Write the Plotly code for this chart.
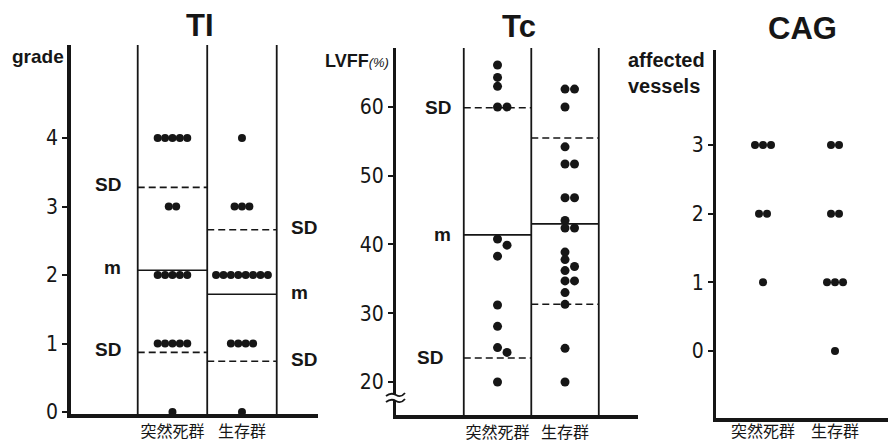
import plotly.graph_objects as go

W, H = 888, 442

# ---------------- data ----------------
groups = ["突然死群", "生存群"]

# TI (grade)
ti_sudden = [4, 4, 4, 4, 4, 3, 3, 2, 2, 2, 2, 2, 1, 1, 1, 1, 1, 0]
ti_survivor = [4, 3, 3, 3, 2, 2, 2, 2, 2, 2, 2, 2, 1, 1, 1, 1, 0]
ti_mean = [2.07, 1.72]
ti_sd_hi = [3.28, 2.66]
ti_sd_lo = [0.87, 0.74]
ti_ticks = [0, 1, 2, 3, 4]

# Tc (LVFF %)
tc_sudden = [66.1, 64.3, 63.0, 60.0, 60.0, 40.8, 39.9, 38.3, 31.2, 28.1, 25.0, 24.3, 20.0]
tc_survivor = [62.6, 62.6, 60.0, 54.2, 51.7, 51.7, 46.8, 46.8, 43.5, 42.4, 42.4,
               38.9, 37.8, 36.8, 36.2, 34.7, 34.7, 33.0, 31.3, 24.9, 20.0]
tc_mean = [41.4, 43.0]
tc_sd_hi = [59.9, 55.5]
tc_sd_lo = [23.5, 31.3]
tc_ticks = [20, 30, 40, 50, 60]

# CAG (affected vessels)
cag_sudden = [3, 3, 3, 2, 2, 1]
cag_survivor = [3, 3, 2, 2, 1, 1, 1, 0]
cag_ticks = [0, 1, 2, 3]

INK = "#161616"
FONT = "Liberation Sans, Arial, sans-serif"
NUMFONT = "DejaVu Sans Condensed, Liberation Sans Narrow, Arial Narrow, Liberation Sans, Arial, sans-serif"
CJK = "Noto Sans CJK JP, Noto Sans CJK SC, sans-serif"


def fx(p):
    return p / W


def fy(p):
    return 1 - p / H


# panel geometry (pixels) -> axis domains / ranges
panels = [
    dict(name="TI", xa="x", ya="y", xdom=(71, 318), ydom=(45, 414),
         xr=(-1.46, 2.094), yr=(-0.029, 5.358), ticks=ti_ticks,
         xppu=69.5, yppu=68.5, lw=3.5, lab_shift=0),
    dict(name="Tc", xa="x2", ya="y2", xdom=(396, 638), ydom=(48, 415),
         xr=(-1.504, 2.081), yr=(15.2, 68.58), ticks=tc_ticks,
         xppu=67.5, yppu=6.875, lw=3.0, lab_shift=0),
    dict(name="CAG", xa="x3", ya="y3", xdom=(716, 888), ydom=(50, 418),
         xr=(-0.653, 1.736), yr=(-0.976, 4.383), ticks=cag_ticks,
         xppu=72.0, yppu=68.67, lw=3.0, lab_shift=-4),
]


def row_offsets(values, step_px, xppu):
    counts = {}
    for v in values:
        counts[v] = counts.get(v, 0) + 1
    seen = {}
    out = []
    for v in values:
        i = seen.get(v, 0)
        seen[v] = i + 1
        out.append((i - (counts[v] - 1) / 2) * step_px / xppu)
    return out


def swarm_offsets(values, step_px, min_px, xppu, yppu):
    placed = []
    out = []
    for v in values:
        y = v * yppu
        x = 0.0
        for k in [0, 1, -1, 2, -2, 3, -3]:
            x = k * step_px
            if all((x - a) ** 2 + (y - b) ** 2 >= min_px ** 2 for a, b in placed):
                break
        placed.append((x, y))
        out.append(x / xppu)
    return out


fig = go.Figure()
shapes = []
annotations = []


def add_points(vals, gi, offs, p, size):
    fig.add_trace(go.Scatter(
        x=[gi + o for o in offs], y=vals, mode="markers",
        marker=dict(size=size, color=INK, line=dict(width=0)),
        xaxis=p["xa"], yaxis=p["ya"], cliponaxis=False,
        showlegend=False, hoverinfo="y"))


# TI
p = panels[0]
add_points(ti_sudden, 0, row_offsets(ti_sudden, 7.4, p["xppu"]), p, 8)
add_points(ti_survivor, 1, row_offsets(ti_survivor, 7.4, p["xppu"]), p, 8)
# Tc
p = panels[1]
add_points(tc_sudden, 0, swarm_offsets(tc_sudden, 9.5, 7.5, p["xppu"], p["yppu"]), p, 9)
add_points(tc_survivor, 1, swarm_offsets(tc_survivor, 9.5, 7.5, p["xppu"], p["yppu"]), p, 9)
# CAG
p = panels[2]
add_points(cag_sudden, 0, row_offsets(cag_sudden, 8.0, p["xppu"]), p, 8)
add_points(cag_survivor, 1, row_offsets(cag_survivor, 8.0, p["xppu"]), p, 8)

# column boundaries, mean and SD lines
for p, means, his, los in [(panels[0], ti_mean, ti_sd_hi, ti_sd_lo),
                           (panels[1], tc_mean, tc_sd_hi, tc_sd_lo)]:
    for cx in [-0.5, 0.5, 1.5]:
        shapes.append(dict(type="line", xref=p["xa"], yref=p["ya"] + " domain",
                           x0=cx, x1=cx, y0=0, y1=1,
                           line=dict(color=INK, width=1.8)))
    for gi in range(2):
        shapes.append(dict(type="line", xref=p["xa"], yref=p["ya"],
                           x0=gi - 0.5, x1=gi + 0.5, y0=means[gi], y1=means[gi],
                           line=dict(color=INK, width=1.6)))
        for v in (his[gi], los[gi]):
            shapes.append(dict(type="line", xref=p["xa"], yref=p["ya"],
                               x0=gi - 0.5, x1=gi + 0.5, y0=v, y1=v,
                               line=dict(color=INK, width=1.6, dash="7px,4px")))

# m / SD labels
lab_font = dict(family=FONT, size=19, color=INK, weight="bold")
p = panels[0]
for txt, v in [("SD", ti_sd_hi[0]), ("m", ti_mean[0]), ("SD", ti_sd_lo[0])]:
    annotations.append(dict(text=txt, xref=p["xa"], yref=p["ya"], x=-0.5, y=v,
                            xanchor="right", yanchor="middle", xshift=-15, yshift=3,
                            showarrow=False, font=lab_font))
for txt, v in [("SD", ti_sd_hi[1]), ("m", ti_mean[1]), ("SD", ti_sd_lo[1])]:
    annotations.append(dict(text=txt, xref=p["xa"], yref=p["ya"], x=1.5, y=v,
                            xanchor="left", yanchor="middle", xshift=12, yshift=2,
                            showarrow=False, font=lab_font))
p = panels[1]
for txt, v, sh in [("SD", tc_sd_hi[0], -11), ("m", tc_mean[0], -11), ("SD", tc_sd_lo[0], -19)]:
    annotations.append(dict(text=txt, xref=p["xa"], yref=p["ya"], x=-0.5, y=v,
                            xanchor="right", yanchor="middle", xshift=sh, yshift=0,
                            showarrow=False, font=lab_font))

# titles and axis labels
for txt, x, y in [("TI", 200, 25), ("Tc", 519, 26), ("CAG", 802, 28)]:
    annotations.append(dict(text=f"<b>{txt}</b>", xref="paper", yref="paper",
                            x=fx(x), y=fy(y), xanchor="center", yanchor="middle",
                            showarrow=False, font=dict(family=FONT, size=31, color=INK)))
annotations.append(dict(text="<b>grade</b>", xref="paper", yref="paper", x=fx(66), y=fy(57),
                        xanchor="right", yanchor="middle", showarrow=False,
                        font=dict(family=FONT, size=19, color=INK)))
annotations.append(dict(text="<b>LVFF</b><span style='font-size:13px'><i>(%)</i></span>",
                        xref="paper", yref="paper", x=fx(391), y=fy(61),
                        xanchor="right", yanchor="middle", showarrow=False,
                        font=dict(family=FONT, size=18, color=INK)))
annotations.append(dict(text="<b>affected</b><br><b>vessels</b>", xref="paper", yref="paper",
                        x=fx(626), y=fy(73), xanchor="left", yanchor="middle",
                        align="left", showarrow=False,
                        font=dict(family=FONT, size=20, color=INK)))

# axis break on Tc axis
shapes.append(dict(type="rect", xref="paper", yref="paper",
                   x0=fx(390), x1=fx(403), y0=fy(401), y1=fy(395),
                   fillcolor="white", line=dict(width=0), layer="above"))
for yb in (395, 401):
    path = (f"M {fx(386)} {fy(yb + 1)} Q {fx(391)} {fy(yb - 3)} {fx(396)} {fy(yb)} "
            f"T {fx(405)} {fy(yb - 2)}")
    shapes.append(dict(type="path", xref="paper", yref="paper", path=path,
                       line=dict(color=INK, width=1.8), layer="above"))

layout = dict(
    width=W, height=H, margin=dict(l=0, r=0, t=0, b=0, autoexpand=False),
    paper_bgcolor="white", plot_bgcolor="white", showlegend=False,
    shapes=shapes, annotations=annotations,
)
for i, p in enumerate(panels):
    sfx = "" if i == 0 else str(i + 1)
    layout["xaxis" + sfx] = dict(
        domain=[fx(p["xdom"][0]), fx(p["xdom"][1])], range=list(p["xr"]),
        anchor=p["ya"], showgrid=False, zeroline=False, automargin=False,
        showline=True, linecolor=INK, linewidth=3.5,
        tickmode="array", tickvals=[0, 1], ticktext=groups, ticks="",
        ticklabelstandoff=p["lab_shift"],
        tickfont=dict(family=CJK, size=16, color=INK), fixedrange=True)
    layout["yaxis" + sfx] = dict(
        domain=[fy(p["ydom"][1]), fy(p["ydom"][0])], range=list(p["yr"]),
        anchor=p["xa"], showgrid=False, zeroline=False, automargin=False,
        showline=True, linecolor=INK, linewidth=p["lw"],
        tickmode="array", tickvals=p["ticks"], ticks="outside", ticklen=5,
        tickwidth=1.5, tickcolor=INK,
        tickfont=dict(family=NUMFONT, size=21, color=INK), fixedrange=True)

fig.update_layout(**layout)
fig.write_html(
    "out.html",
    config={"displayModeBar": False},
    post_script="document.body.style.margin='0';document.body.style.overflow='hidden';",
)
